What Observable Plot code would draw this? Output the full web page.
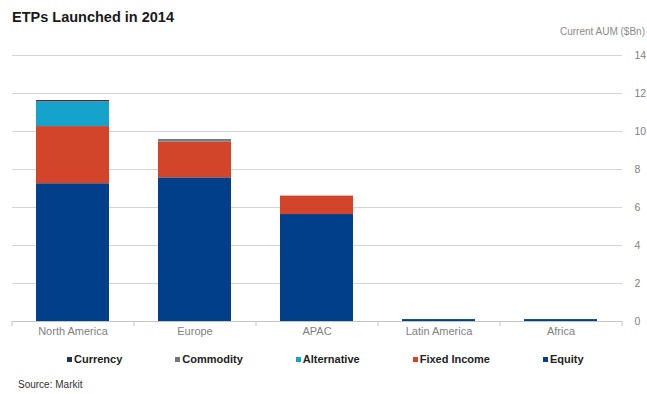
<!DOCTYPE html>
<html>
<head>
<meta charset="utf-8">
<script src="https://cdn.jsdelivr.net/npm/d3@7"></script>
<script src="https://cdn.jsdelivr.net/npm/@observablehq/plot@0.6"></script>
<style>
  body { margin: 0; background: #fff; font-family: "Liberation Sans", Arial, sans-serif; }
  #wrap { position: relative; width: 647px; height: 394px; overflow: hidden; }
  #title { position: absolute; left: 12px; top: 9px; font-size: 14.5px; font-weight: bold; color: #1a1a1a; }
  #unit { position: absolute; right: 2px; top: 26px; font-size: 10px; color: #8a8a8a; }
  #chart { position: absolute; left: 0; top: 40px; }
  #legend { position: absolute; left: 67px; top: 353px; display: flex; gap: 53px; font-size: 11px; font-weight: bold; color: #222; }
  #legend .item { display: flex; align-items: center; }
  #legend .sw { width: 5px; height: 5px; margin-right: 2px; }
  #source { position: absolute; left: 18px; top: 379px; font-size: 10px; color: #333; }
</style>
</head>
<body>
<div id="wrap">
  <div id="title">ETPs Launched in 2014</div>
  <div id="unit">Current AUM ($Bn)</div>
  <div id="chart"></div>
  <div id="legend"></div>
  <div id="source">Source: Markit</div>
</div>
<script>
const regions = ["North America", "Europe", "APAC", "Latin America", "Africa"];
const seriesNames = ["Equity", "Fixed Income", "Alternative", "Commodity", "Currency"];
const equity      = [7.25, 7.56, 5.63, 0.1, 0.1];
const fixedIncome = [3.01, 1.88, 0.97, 0, 0];
const alternative = [1.27, 0, 0, 0, 0];
const commodity   = [0.04, 0.07, 0, 0, 0];
const currency    = [0.06, 0.05, 0, 0, 0];
const yTicks = [0, 2, 4, 6, 8, 10, 12, 14];
const legendOrder = ["Currency", "Commodity", "Alternative", "Fixed Income", "Equity"];
const colors = {
  "Equity": "#013f8b",
  "Fixed Income": "#d2452a",
  "Alternative": "#15a3cb",
  "Commodity": "#767676",
  "Currency": "#1d3550"
};

const seriesValues = [equity, fixedIncome, alternative, commodity, currency];
const data = [];
seriesNames.forEach((s, i) => {
  regions.forEach((r, j) => {
    data.push({ region: r, series: s, value: seriesValues[i][j] });
  });
});

const chart = Plot.plot({
  width: 647,
  height: 300,
  marginTop: 15,
  marginBottom: 19,
  marginLeft: 12,
  marginRight: 25,
  style: { fontFamily: "'Liberation Sans', Arial, sans-serif", background: "transparent" },
  x: { domain: regions, paddingInner: 0.4, paddingOuter: 0.2, label: null },
  y: { domain: [0, 14], label: null },
  color: { domain: seriesNames, range: seriesNames.map(s => colors[s]) },
  marks: [
    Plot.gridY(yTicks.filter(t => t > 0), { stroke: "#d4d4d4", strokeOpacity: 1 }),
    Plot.barY(data, { x: "region", y: "value", fill: "series", order: seriesNames }),
    Plot.ruleY([0], { stroke: "#c4c4c4" }),
    Plot.ruleX(regions, { x: d => d, dx: -61, y1: 0, y2: -0.27, stroke: "#c4c4c4" }),
    Plot.ruleX(regions.slice(-1), { x: d => d, dx: 61, y1: 0, y2: -0.27, stroke: "#c4c4c4" }),
    Plot.axisX({ tickSize: 0, tickPadding: 6, fontSize: 11, color: "#7f7f7f", label: null }),
    Plot.axisY({ anchor: "right", ticks: yTicks, tickSize: 0, tickPadding: 12, fontSize: 10.5, color: "#7f7f7f", label: null })
  ]
});
document.getElementById("chart").appendChild(chart);

const legend = document.getElementById("legend");
legendOrder.forEach(s => {
  const item = document.createElement("div");
  item.className = "item";
  const sw = document.createElement("span");
  sw.className = "sw";
  sw.style.background = colors[s];
  const t = document.createElement("span");
  t.textContent = s;
  item.appendChild(sw);
  item.appendChild(t);
  legend.appendChild(item);
});
</script>
</body>
</html>
